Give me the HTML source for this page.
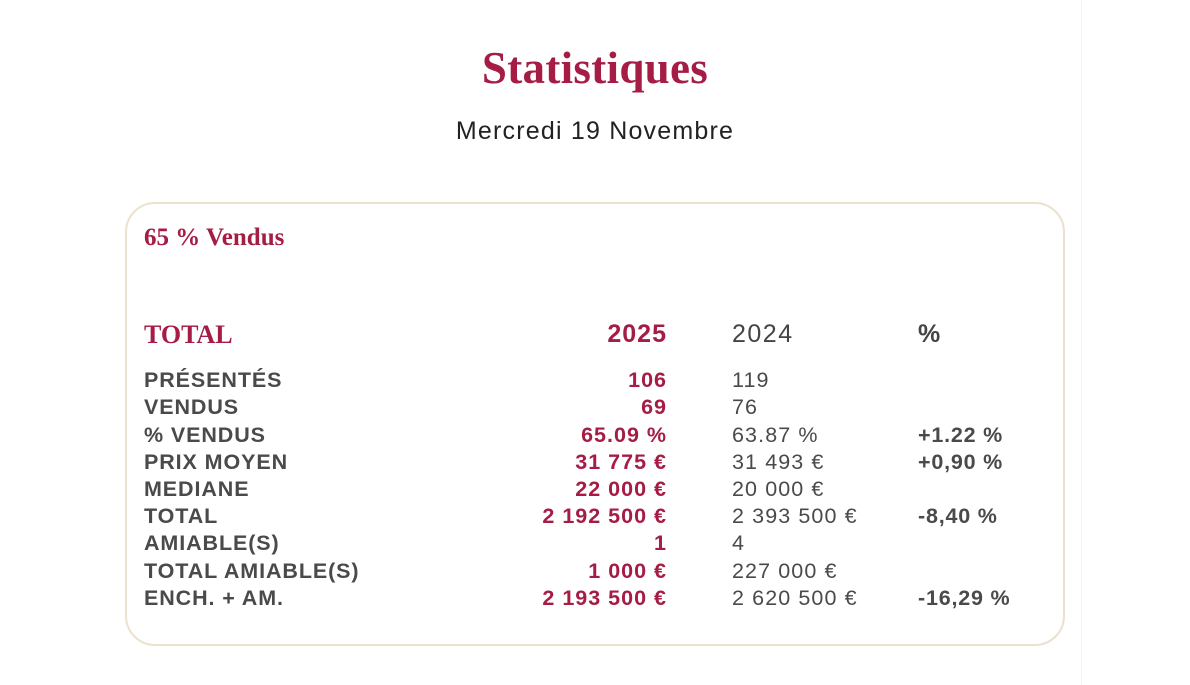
<!DOCTYPE html>
<html><head><meta charset="utf-8"><style>
body{margin:0;width:1190px;height:685px;background:#fff;position:relative;overflow:hidden;font-family:"Liberation Sans",sans-serif}
.vl{position:absolute;left:1081px;top:0;width:1px;height:685px;background:#f4f4f4}
h1{position:absolute;top:40px;left:0;width:1190px;text-align:center;margin:0;font-family:"Liberation Serif",serif;font-weight:bold;font-size:45px;color:#a51c45;line-height:56px;letter-spacing:.3px}
.sub{position:absolute;top:114px;left:0;width:1190px;text-align:center;font-size:25px;color:#222;line-height:34px;letter-spacing:1.2px}
.box{position:absolute;left:125px;top:202px;width:936px;height:440px;border:2px solid #ebe1cd;border-radius:30px}
.t{position:absolute;white-space:nowrap;line-height:28px}
.s{font-family:"Liberation Serif",serif;font-weight:bold;color:#a51c45}
.l{left:144px;font-weight:bold;font-size:21.5px;color:#4a4a4a;letter-spacing:.9px}
.a{right:523px;font-weight:bold;font-size:21.5px;color:#a51c45;text-align:right;letter-spacing:1px}
.b{left:732px;font-size:21.5px;color:#4a4a4a;letter-spacing:1.1px}
.c{left:918px;font-weight:bold;font-size:21.5px;color:#4a4a4a;letter-spacing:.8px}
</style></head><body>
<div class="vl"></div>
<h1>Statistiques</h1>
<div class="sub">Mercredi 19 Novembre</div>
<div class="box"></div>
<div class="t s" style="left:144px;top:224px;font-size:25px">65 % Vendus</div>
<div class="t s" style="left:144px;top:321px;font-size:26px">TOTAL</div>
<div class="t" style="right:523px;top:320px;font-size:25px;font-weight:bold;color:#a51c45;letter-spacing:1px">2025</div>
<div class="t" style="left:732px;top:320px;font-size:25px;color:#444;letter-spacing:1.5px">2024</div>
<div class="t" style="left:918px;top:320px;font-size:25px;font-weight:bold;color:#444">%</div>
<div class="t l" style="top:366px">PRÉSENTÉS</div><div class="t a" style="top:366px">106</div><div class="t b" style="top:366px">119</div>
<div class="t l" style="top:393px">VENDUS</div><div class="t a" style="top:393px">69</div><div class="t b" style="top:393px">76</div>
<div class="t l" style="top:421px">% VENDUS</div><div class="t a" style="top:421px">65.09 %</div><div class="t b" style="top:421px">63.87 %</div><div class="t c" style="top:421px">+1.22 %</div>
<div class="t l" style="top:448px">PRIX MOYEN</div><div class="t a" style="top:448px">31 775 €</div><div class="t b" style="top:448px">31 493 €</div><div class="t c" style="top:448px">+0,90 %</div>
<div class="t l" style="top:475px">MEDIANE</div><div class="t a" style="top:475px">22 000 €</div><div class="t b" style="top:475px">20 000 €</div>
<div class="t l" style="top:502px">TOTAL</div><div class="t a" style="top:502px">2 192 500 €</div><div class="t b" style="top:502px">2 393 500 €</div><div class="t c" style="top:502px">-8,40 %</div>
<div class="t l" style="top:529px">AMIABLE(S)</div><div class="t a" style="top:529px">1</div><div class="t b" style="top:529px">4</div>
<div class="t l" style="top:557px">TOTAL AMIABLE(S)</div><div class="t a" style="top:557px">1 000 €</div><div class="t b" style="top:557px">227 000 €</div>
<div class="t l" style="top:584px">ENCH. + AM.</div><div class="t a" style="top:584px">2 193 500 €</div><div class="t b" style="top:584px">2 620 500 €</div><div class="t c" style="top:584px">-16,29 %</div>
</body></html>
